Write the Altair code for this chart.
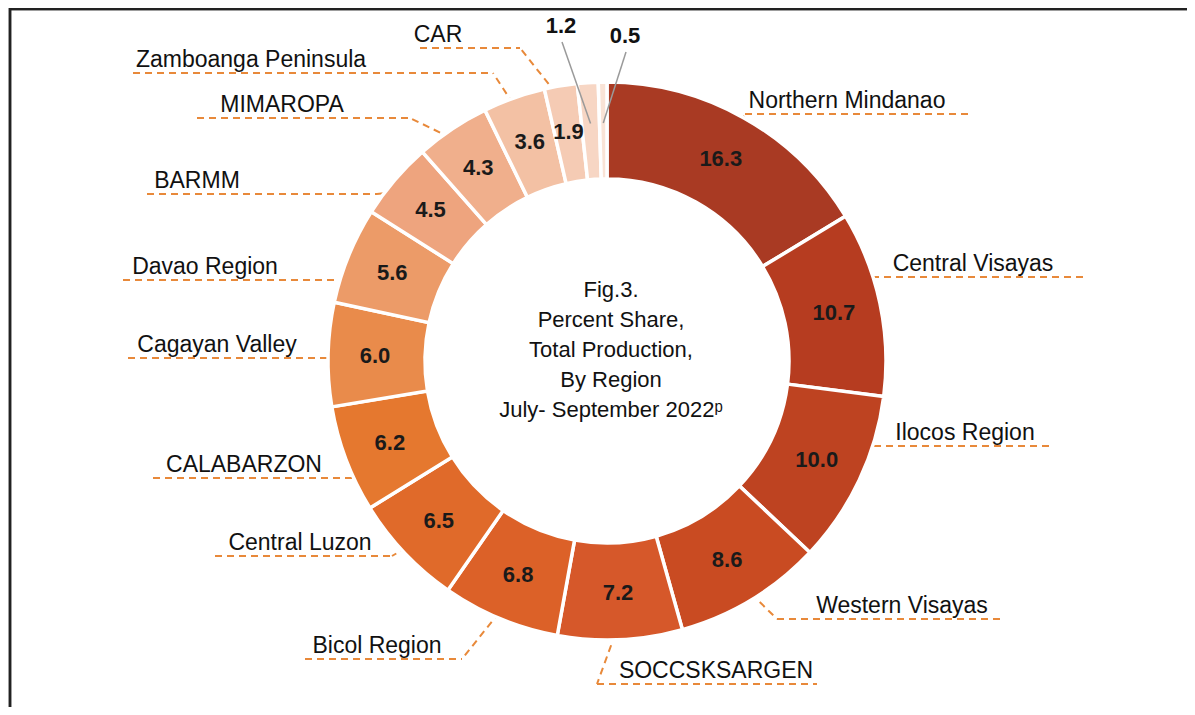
import altair as alt
import pandas as pd
import numpy as np

# ---------------- data ----------------
regions = ["Northern Mindanao", "Central Visayas", "Ilocos Region", "Western Visayas",
           "SOCCSKSARGEN", "Bicol Region", "Central Luzon", "CALABARZON",
           "Cagayan Valley", "Davao Region", "BARMM", "MIMAROPA",
           "Zamboanga Peninsula", "CAR", "Caraga", "Eastern Visayas"]
values = [16.3, 10.7, 10.0, 8.6, 7.2, 6.8, 6.5, 6.2, 6.0, 5.6, 4.5, 4.3, 3.6, 1.9, 1.2, 0.5]
shown_names = regions[:14]          # regions whose names are printed
outside_values = ["1.2", "0.5"]     # small slices labelled outside the ring

# ---------------- styles / layout ----------------
colors = ["#A93A23", "#B63C20", "#BE4321", "#C94B22", "#D6582A", "#DC6128",
          "#E06A2A", "#E5782F", "#E98B4B", "#EC9B68", "#EEA47E", "#F0AF8C",
          "#F3C1A4", "#F5CBB4", "#F7D6C4", "#F9E3D6"]
FONT = "Liberation Sans"
W, H = 1179, 699
CX, CY = 607.0, 361.0          # ring centre (page px)
R_IN, R_OUT = 182, 279

# name label layout: text centre x, underline y, underline x-range
lab_cx = [847, 973, 965, 902, 716, 377, 300, 244, 217, 205, 197, 282, 251, 438]
lab_uy = [114, 277, 446, 619, 684, 659, 556, 478, 358, 280, 194, 118, 73, 48]
lab_x0 = [745, 860, 850, 777, 597, 305, 215, 153, 128, 123, 147, 197, 133, 420]
lab_x1 = [968, 1088, 1053, 1005, 817, 462, 392, 353, 330, 340, 377, 410, 493, 520]
small_xy = [(561, 26), (625, 36)]

# ---------------- derived geometry ----------------
vals = np.array(values)
total = vals.sum()
mid = (np.cumsum(vals) - vals / 2) / total * 2 * np.pi


def polar(r, a):
    return CX + r * np.sin(a), CY - r * np.cos(a)


arc_df = pd.DataFrame({"region": regions, "value": values, "idx": range(len(values))})

vx, vy = polar(232, mid)
val_df = pd.DataFrame({"x": vx, "y": vy, "t": [f"{v:.1f}" for v in values]})
val_df = val_df[vals >= 1.5]

dash_rows = []
name_rows = []
for i, name in enumerate(shown_names):
    uy = lab_uy[i]
    dash_rows.append({"x": lab_x0[i], "y": uy, "x2": lab_x1[i], "y2": uy})
    sx, sy = polar(262, mid[i])
    ex = lab_x0[i] if np.sin(mid[i]) > 0 else lab_x1[i]
    dash_rows.append({"x": sx, "y": sy, "x2": ex, "y2": uy})
    name_rows.append({"x": lab_cx[i], "y": uy - 6, "t": name})
dash_df = pd.DataFrame(dash_rows)
name_df = pd.DataFrame(name_rows)

small_rows, gray_rows = [], []
for k, t in enumerate(outside_values):
    i = len(values) - len(outside_values) + k
    tx, ty = small_xy[k]
    small_rows.append({"x": tx, "y": ty, "t": t})
    ex, ey = polar(238, mid[i])
    gray_rows.append({"x": tx + 1, "y": ty + 16, "x2": ex, "y2": ey})
small_df = pd.DataFrame(small_rows)
gray_df = pd.DataFrame(gray_rows)

xs = alt.Scale(domain=[8, 8 + W], nice=False, zero=False)
ys = alt.Scale(domain=[8, 8 + H], nice=False, zero=False, reverse=True)
X = lambda f: alt.X(f, type="quantitative", scale=xs, axis=None)
Y = lambda f: alt.Y(f, type="quantitative", scale=ys, axis=None)

# ---------------- layers ----------------
dashes = alt.Chart(dash_df).mark_rule(color="#E8893A", strokeWidth=2, strokeDash=[7, 5]).encode(
    x=X("x"), y=Y("y"), x2="x2:Q", y2="y2:Q")

arcs = alt.Chart(arc_df).mark_arc(innerRadius=R_IN, outerRadius=R_OUT, stroke="white",
                                  strokeWidth=3.5, x=CX - 8, y=CY - 8).encode(
    theta=alt.Theta("value:Q", stack=True),
    color=alt.Color("region:N", scale=alt.Scale(domain=regions, range=colors), legend=None),
    order=alt.Order("idx:Q", sort="ascending"))

val_text = alt.Chart(val_df).mark_text(font=FONT, fontSize=22, fontWeight="bold",
                                       color="#1a1a1a", baseline="middle").encode(
    x=X("x"), y=Y("y"), text="t:N")

names = alt.Chart(name_df).mark_text(font=FONT, fontSize=23, color="#111111",
                                     baseline="alphabetic", align="center").encode(
    x=X("x"), y=Y("y"), text="t:N")

gray = alt.Chart(gray_df).mark_rule(color="#9a9a9a", strokeWidth=1.5).encode(
    x=X("x"), y=Y("y"), x2="x2:Q", y2="y2:Q")

small = alt.Chart(small_df).mark_text(font=FONT, fontSize=22, fontWeight="bold",
                                      color="#111111", baseline="middle").encode(
    x=X("x"), y=Y("y"), text="t:N")

center = alt.Chart(small_df).mark_text(
    font=FONT, fontSize=22, color="#111111", lineHeight=30, baseline="middle",
    text=["Fig.3.", "Percent Share,", "Total Production,", "By Region",
          "July- September 2022\u1d56"]).encode(x=alt.value(603), y=alt.value(282))

top_border = alt.Chart(small_df).mark_rule(color="#222222", strokeWidth=2.5).encode(
    x=alt.value(1), x2=alt.value(W), y=alt.value(1))
left_border = alt.Chart(small_df).mark_rule(color="#222222", strokeWidth=2.5).encode(
    x=alt.value(2), y=alt.value(0), y2=alt.value(H))

chart = alt.layer(dashes, arcs, val_text, names, gray, small, center.transform_filter("datum.t == '1.2'"),
                  top_border, left_border).properties(
    width=W, height=H, padding=0, autosize=alt.AutoSizeParams(type="none"),
    background="white"
).configure_view(stroke=None)

chart.save("out.html", embed_options={"renderer": "svg", "actions": False})
